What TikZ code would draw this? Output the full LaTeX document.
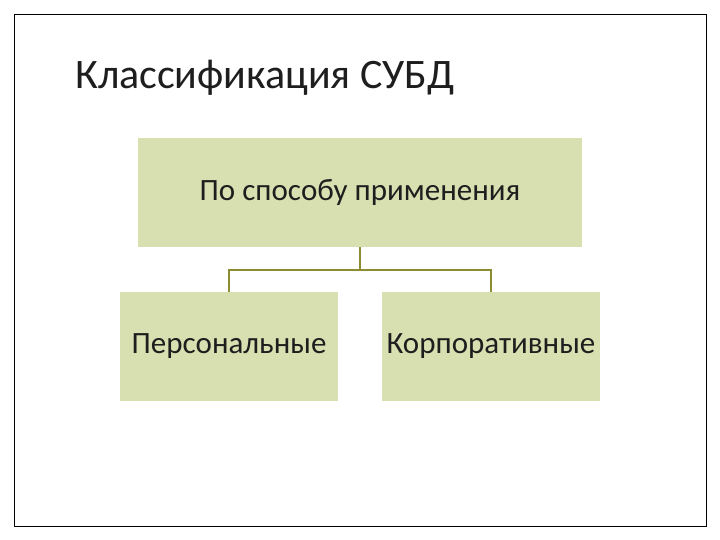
\documentclass[tikz,border=0pt]{standalone}
\usepackage{fontspec}
\setmainfont{Carlito}
\definecolor{boxfill}{RGB}{216,223,176}
\definecolor{linec}{RGB}{140,140,50}
\definecolor{txt}{RGB}{30,30,30}
\tikzset{box/.style={fill=boxfill,draw=none,minimum width=#1,minimum height=109pt,inner sep=0pt,text=txt,font=\fontsize{31}{34}\selectfont},
conn/.style={draw=linec,line width=1.2pt}}
\begin{document}
\begin{tikzpicture}[x=1pt,y=-1pt]
\useasboundingbox (0,0) rectangle (720,540);
\draw[line width=0.8pt] (14,14) rectangle (706,526);
\node[anchor=west,inner sep=0pt,text=txt,font=\fontsize{42}{46}\selectfont] (title) at (75,78) {Классификация СУБД};
\node[box=444pt] (top) at (360,192.5) {По способу применения};
\node[box=218pt] (l) at (229,346.5) {Персональные};
\node[box=218pt] (r) at (491,346.5) {Корпоративные};
\coordinate (j) at (360,270);
\draw[conn] (top.south) -- (j);
\draw[conn] (l.north) |- (j) -| (r.north);
\end{tikzpicture}
\end{document}
